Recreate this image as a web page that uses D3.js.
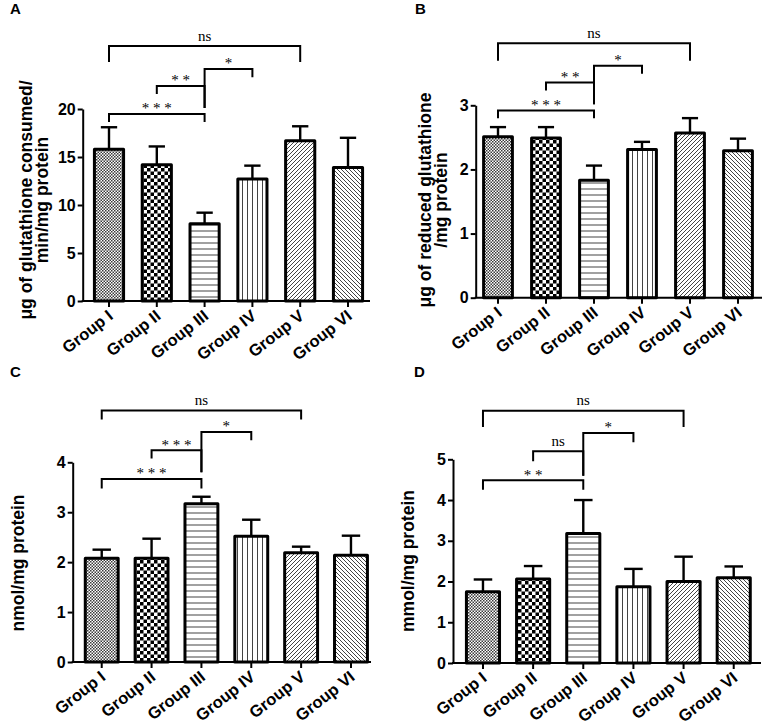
<!DOCTYPE html>
<html><head><meta charset="utf-8">
<script src="https://cdn.jsdelivr.net/npm/d3@7"></script>
<style>
body{margin:0;background:#fff}
svg{display:block}
</style>
</head><body>
<svg id="c" width="767" height="726"></svg>
<script>
// ---------- data ----------
const groups = ["Group I","Group II","Group III","Group IV","Group V","Group VI"];

const meanA = [15.8, 14.2, 8.05, 12.7, 16.7, 13.9];
const semA  = [2.3, 1.9, 1.15, 1.4, 1.5, 3.1];
const meanB = [2.51, 2.49, 1.83, 2.31, 2.57, 2.29];
const semB  = [0.15, 0.17, 0.23, 0.12, 0.23, 0.19];
const meanC = [2.08, 2.08, 3.17, 2.52, 2.19, 2.14];
const semC  = [0.17, 0.39, 0.14, 0.33, 0.12, 0.39];
const meanD = [1.75, 2.06, 3.18, 1.87, 2.00, 2.09];
const semD  = [0.30, 0.32, 0.82, 0.44, 0.61, 0.28];

const ticksA = [0, 5, 10, 15, 20];
const ticksB = [0, 1, 2, 3];
const ticksC = [0, 1, 2, 3, 4];
const ticksD = [0, 1, 2, 3, 4, 5];

const titleA = ["\u03bcg of glutathione consumed/", "min/mg protein"];
const titleB = ["\u03bcg of reduced glutathione", "/mg protein"];
const titleC = ["nmol/mg protein"];
const titleD = ["mmol/mg protein"];

// significance brackets: [from group, to group, level, left leg end, right leg end, label] (data units)
const sigA = [[0,4,26.56,24.9,24.9,"ns"],[2,3,24.17,20.1,23.3,"*"],[1,2,22.4,21.56,20.1,"* *"],[0,2,19.48,18.65,18.65,"* * *"]];
const sigB = [[0,4,3.969,3.693,3.693,"ns"],[2,3,3.615,3.017,3.49,"*"],[1,2,3.354,3.229,3.017,"* *"],[0,2,2.917,2.799,2.799,"* * *"]];
const sigC = [[0,4,5.036,4.856,4.856,"ns"],[2,3,4.609,3.80,4.443,"*"],[1,2,4.242,4.074,3.80,"* * *"],[0,2,3.667,3.473,3.473,"* * *"]];
const sigD = [[0,4,6.194,5.794,5.794,"ns"],[2,3,5.647,4.599,5.419,"*"],[1,2,5.198,4.952,4.599,"ns"],[0,2,4.486,4.255,4.255,"* *"]];

// ---------- layout ----------
const SANS = "'Liberation Sans', Arial, sans-serif";
const SERIF = "'Liberation Serif', 'Times New Roman', serif";
const panels = [
  {letter:"A", lx:10, ly:14, mean:meanA, sem:semA, ticks:ticksA, title:titleA, sig:sigA,
   axisX:82.7, y0:301, yTop:109, xL:85.1, xR:371.9, axisEnd:370, barFrac:0.61, tx:[32,48], ty:200},
  {letter:"B", lx:415, ly:14, mean:meanB, sem:semB, ticks:ticksB, title:titleB, sig:sigB,
   axisX:475.7, y0:297.7, yTop:105.3, xL:474, xR:762, axisEnd:762, barFrac:0.60, tx:[431,447], ty:200},
  {letter:"C", lx:10, ly:377, mean:meanC, sem:semC, ticks:ticksC, title:titleC, sig:sigC,
   axisX:72.7, y0:662, yTop:462.3, xL:76.8, xR:375.9, axisEnd:371, barFrac:0.66, tx:[24], ty:563},
  {letter:"D", lx:414, ly:377, mean:meanD, sem:semD, ticks:ticksD, title:titleD, sig:sigD,
   axisX:453, y0:663, yTop:459.3, xL:457.9, xR:758.8, axisEnd:761, barFrac:0.66, tx:[414], ty:561}
];

const svg = d3.select("#c");
svg.append("rect").attr("width",767).attr("height",726).attr("fill","#fff");
const defs = svg.append("defs");
function pat(id, w, h, draw){
  const p = defs.append("pattern").attr("id",id).attr("patternUnits","userSpaceOnUse")
    .attr("width",w).attr("height",h);
  p.append("rect").attr("width",w).attr("height",h).attr("fill","#fff");
  draw(p);
}
function checker(s, col){ return p => {
  p.append("rect").attr("width",s).attr("height",s).attr("fill",col);
  p.append("rect").attr("x",s).attr("y",s).attr("width",s).attr("height",s).attr("fill",col);
};}
pat("p0",3,3,checker(1.5,"#3a3a3a"));
pat("p1",7,7,checker(3.5,"#000"));
pat("p2",6,6,p=>p.append("rect").attr("x",0).attr("y",2.5).attr("width",6).attr("height",1).attr("fill","#444"));
pat("p3",5,5,p=>p.append("rect").attr("x",2).attr("y",0).attr("width",1).attr("height",5).attr("fill","#444"));
pat("p4",4,4,p=>p.append("path").attr("d","M-1,1L1,-1M0,4L4,0M3,5L5,3").attr("stroke","#444").attr("stroke-width",1));
pat("p5",4,4,p=>p.append("path").attr("d","M-1,3L1,5M0,0L4,4M3,-1L5,1").attr("stroke","#444").attr("stroke-width",1));

panels.forEach(P => {
  const g = svg.append("g");
  const yMax = P.ticks[P.ticks.length-1];
  const y = d3.scaleLinear().domain([0, yMax]).range([P.y0, P.yTop]);
  const x = d3.scaleBand().domain(groups).range([P.xL, P.xR]).padding(0);
  const bw = x.bandwidth()*P.barFrac;
  const cx = d => x(d) + x.bandwidth()/2;

  // panel letter
  g.append("text").attr("x",P.lx).attr("y",P.ly).style("font-family",SANS)
    .attr("font-size",15).attr("font-weight","bold").text(P.letter);

  const data = groups.map((gr,i)=>({g:gr, i, m:P.mean[i], s:P.sem[i]}));
  // error bars (behind bars)
  const eb = g.append("g").attr("stroke","#000").attr("stroke-width",2.4).attr("fill","none");
  data.forEach(d => {
    eb.append("line").attr("x1",cx(d.g)).attr("x2",cx(d.g)).attr("y1",y(d.m)).attr("y2",y(d.m+d.s));
    eb.append("line").attr("x1",cx(d.g)-bw*0.28).attr("x2",cx(d.g)+bw*0.28).attr("y1",y(d.m+d.s)).attr("y2",y(d.m+d.s));
  });
  g.append("g").selectAll("rect").data(data).join("rect")
    .attr("x", d => cx(d.g)-bw/2).attr("width", bw)
    .attr("y", d => y(d.m)).attr("height", d => y(0)-y(d.m))
    .attr("fill", d => `url(#p${d.i})`).attr("stroke","#000").attr("stroke-width",3)
    .attr("stroke-linejoin","round");

  // y axis
  const ya = g.append("g").attr("transform",`translate(${P.axisX},0)`)
    .call(d3.axisLeft(y).tickValues(P.ticks).tickSize(5).tickSizeOuter(0).tickPadding(2).tickFormat(d3.format("d")));
  ya.select(".domain").attr("stroke-width",2);
  ya.selectAll(".tick line").attr("stroke-width",2);
  ya.selectAll(".tick text").style("font-family",SANS).style("font-size","16px")
    .attr("font-weight","bold").attr("fill","#000");

  // x axis
  const xa = g.append("g").attr("transform",`translate(0,${P.y0})`)
    .call(d3.axisBottom(x).tickSize(6).tickSizeOuter(0));
  xa.select(".domain").remove();
  xa.selectAll(".tick line").attr("stroke-width",2);
  xa.selectAll(".tick text").remove();
  g.append("line").attr("x1",P.axisX-1).attr("x2",P.axisEnd).attr("y1",P.y0).attr("y2",P.y0)
    .attr("stroke","#000").attr("stroke-width",2);
  g.append("g").selectAll("text").data(groups).join("text")
    .attr("transform", d => `translate(${cx(d)+5},${P.y0+17}) rotate(-38)`)
    .attr("text-anchor","end").style("font-family",SANS).attr("font-size",16.5)
    .attr("font-weight","bold").text(d=>d);

  // y title
  P.title.forEach((t,k) => {
    g.append("text").attr("transform",`translate(${P.tx[k]},${P.ty}) rotate(-90)`)
      .attr("text-anchor","middle").style("font-family",SANS).attr("font-size",17.5)
      .attr("font-weight","bold").text(t);
  });

  // significance brackets
  const sg = g.append("g");
  P.sig.forEach(([a,b,lev,le,re,lab]) => {
    const xa1 = cx(groups[a]), xb1 = cx(groups[b]);
    sg.append("path").attr("d",`M${xa1},${y(le)}V${y(lev)}H${xb1}V${y(re)}`)
      .attr("fill","none").attr("stroke","#000").attr("stroke-width",2);
    const isNs = lab === "ns";
    sg.append("text").attr("x",(xa1+xb1)/2).attr("y",y(lev) - (isNs ? 5.5 : 0.5))
      .attr("text-anchor","middle").style("font-family",SERIF)
      .attr("font-size", 15).attr("fill","#000").text(lab);
  });
});
</script>
</body></html>
